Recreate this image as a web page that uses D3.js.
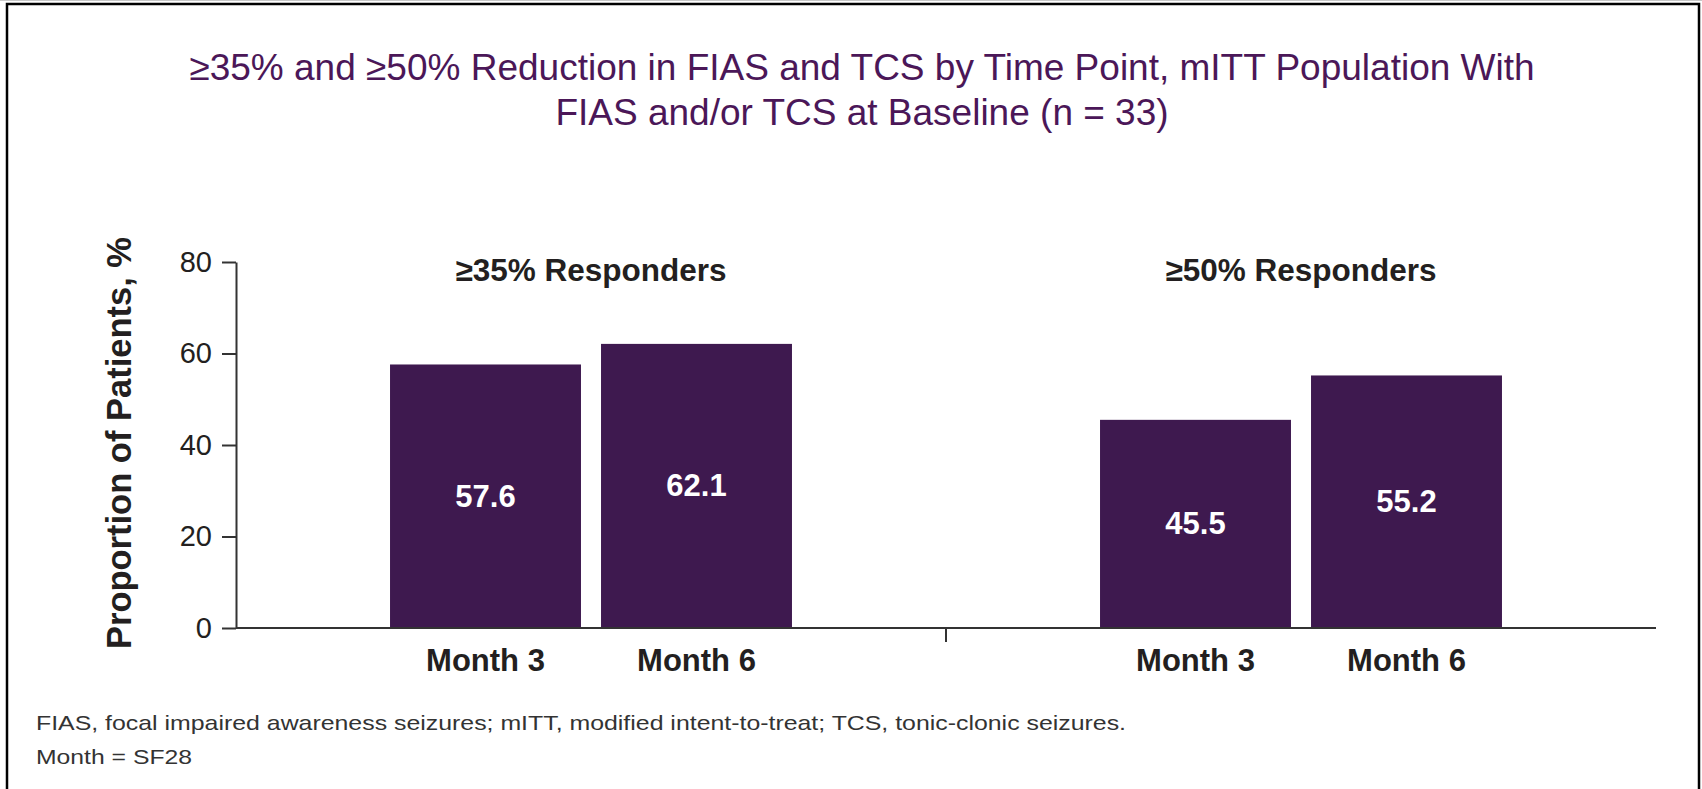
<!DOCTYPE html>
<html>
<head>
<meta charset="utf-8">
<script src="https://cdn.jsdelivr.net/npm/d3@7"></script>
<style>
  body { margin: 0; background: #fff; }
  svg { display: block; font-family: "Liberation Sans", Arial, Helvetica, sans-serif; }
</style>
</head>
<body>
<svg id="chart" width="1702" height="789"></svg>
<script>
// chart data
var groups = ["≥35% Responders", "≥50% Responders"];
var months = ["Month 3", "Month 6"];
var resp35 = [57.6, 62.1];
var resp50 = [45.5, 55.2];
var yTicks = [0, 20, 40, 60, 80];
var titleLines = ["≥35% and ≥50% Reduction in FIAS and TCS by Time Point, mITT Population With",
                  "FIAS and/or TCS at Baseline (n = 33)"];
var footnotes = ["FIAS, focal impaired awareness seizures; mITT, modified intent-to-treat; TCS, tonic-clonic seizures.",
                 "Month = SF28"];
var footWidths = [1090, 156];

var barColor = "#3e194f";
var inkColor = "#231f20";

var svg = d3.select("#chart");

// frame
svg.append("rect")
    .attr("x", 0).attr("y", 0).attr("width", 1702).attr("height", 1)
    .attr("fill", "#c8c8c8");
svg.append("rect")
    .attr("x", 7).attr("y", 4)
    .attr("width", 1692).attr("height", 820)
    .attr("fill", "none")
    .attr("stroke", "#000")
    .attr("stroke-width", 2.5);

// title
svg.append("g").selectAll("text")
    .data(titleLines)
    .enter().append("text")
    .attr("x", 862)
    .attr("y", function(d, i) { return 80 + i * 45; })
    .attr("text-anchor", "middle")
    .attr("fill", "#4b1758")
    .style("font-size", "37px")
    .text(function(d) { return d; });

// scales
var y = d3.scaleLinear().domain([0, 80]).range([628, 262]);
var x0 = d3.scaleBand().domain(groups).range([236, 1656]);
var x1 = d3.scaleBand().domain(months).range([0, x0.bandwidth()])
    .paddingInner(0.095).paddingOuter(0.73);

// y axis
var yAxis = svg.append("g")
    .attr("transform", "translate(236,0)")
    .call(d3.axisLeft(y).tickValues(yTicks).tickSize(14).tickSizeOuter(0).tickPadding(10));
yAxis.select(".domain").attr("stroke", "#333").attr("stroke-width", 2);
yAxis.selectAll(".tick line").attr("stroke", "#333").attr("stroke-width", 2);
yAxis.selectAll(".tick text")
    .attr("fill", inkColor)
    .style("font-family", "'Liberation Sans', Arial, sans-serif")
    .style("font-size", "29px");

svg.append("text")
    .attr("transform", "translate(119," + ((238 + 648) / 2) + ") rotate(-90)")
    .attr("text-anchor", "middle")
    .attr("dominant-baseline", "central")
    .attr("fill", inkColor)
    .style("font-size", "34.5px")
    .style("font-weight", "bold")
    .text("Proportion of Patients, %");

// bars
var series = [resp35, resp50];
var groupG = svg.selectAll(".grp")
    .data(groups)
    .enter().append("g")
    .attr("class", "grp")
    .attr("transform", function(d) { return "translate(" + x0(d) + ",0)"; });

groupG.selectAll("rect")
    .data(function(d, i) { return series[i].map(function(v, j) { return {m: months[j], v: v}; }); })
    .enter().append("rect")
    .attr("x", function(d) { return x1(d.m); })
    .attr("y", function(d) { return y(d.v); })
    .attr("width", x1.bandwidth())
    .attr("height", function(d) { return y(0) - y(d.v); })
    .attr("fill", barColor);

groupG.selectAll(".val")
    .data(function(d, i) { return series[i].map(function(v, j) { return {m: months[j], v: v}; }); })
    .enter().append("text")
    .attr("class", "val")
    .attr("x", function(d) { return x1(d.m) + x1.bandwidth() / 2; })
    .attr("y", function(d) { return (y(d.v) + y(0)) / 2; })
    .attr("text-anchor", "middle")
    .attr("dominant-baseline", "central")
    .attr("fill", "#fff")
    .style("font-size", "31px")
    .style("font-weight", "bold")
    .text(function(d) { return d.v.toFixed(1); });

// month labels
groupG.selectAll(".mon")
    .data(months)
    .enter().append("text")
    .attr("class", "mon")
    .attr("x", function(d) { return x1(d) + x1.bandwidth() / 2; })
    .attr("y", 671)
    .attr("text-anchor", "middle")
    .attr("fill", inkColor)
    .style("font-size", "31px")
    .style("font-weight", "bold")
    .text(function(d) { return d; });

// group headers
groupG.append("text")
    .attr("x", x0.bandwidth() / 2)
    .attr("y", 281)
    .attr("text-anchor", "middle")
    .attr("fill", inkColor)
    .style("font-size", "31.5px")
    .style("font-weight", "bold")
    .text(function(d) { return d; });

// x axis line + group divider tick
svg.append("line")
    .attr("x1", 236).attr("x2", 1656)
    .attr("y1", y(0)).attr("y2", y(0))
    .attr("stroke", "#333").attr("stroke-width", 2);
svg.append("line")
    .attr("x1", x0(groups[1])).attr("x2", x0(groups[1]))
    .attr("y1", y(0)).attr("y2", y(0) + 14)
    .attr("stroke", "#333").attr("stroke-width", 2);

// footnotes
svg.append("g").selectAll("text")
    .data(footnotes)
    .enter().append("text")
    .attr("x", 36)
    .attr("y", function(d, i) { return 730 + i * 34; })
    .attr("fill", "#333")
    .attr("textLength", function(d, i) { return footWidths[i]; })
    .attr("lengthAdjust", "spacingAndGlyphs")
    .style("font-size", "21px")
    .text(function(d) { return d; });
</script>
</body>
</html>
